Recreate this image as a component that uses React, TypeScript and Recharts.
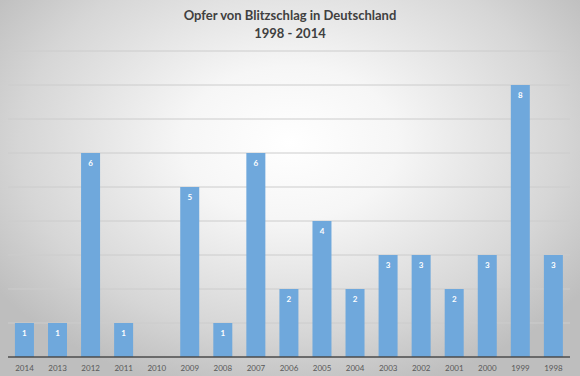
import { BarChart, Bar, XAxis, YAxis, CartesianGrid, LabelList } from 'recharts';

const years = ['2014', '2013', '2012', '2011', '2010', '2009', '2008', '2007', '2006', '2005', '2004', '2003', '2002', '2001', '2000', '1999', '1998'];
const victims = [1, 1, 6, 1, 0, 5, 1, 6, 2, 4, 2, 3, 3, 2, 3, 8, 3];
const yTicks = [0, 1, 2, 3, 4, 5, 6, 7, 8, 9];

const data = years.map((year, i) => ({ year, value: victims[i] }));

const FONT = 'Lato, "Open Sans", sans-serif';

export default function App() {
  return (
    <div
      style={{
        position: 'absolute',
        left: 0,
        top: 0,
        width: 580,
        height: 376,
        fontFamily: FONT,
        background: 'radial-gradient(ellipse 62% 68% at 50% 38%, #ffffff 0%, #f6f6f6 30%, #d6d6d6 75%, #bebebe 100%)',
      }}
    >
      <div
        style={{
          position: 'absolute',
          top: 6,
          left: 0,
          width: 580,
          textAlign: 'center',
          fontWeight: 700,
          fontSize: 13,
          lineHeight: '18px',
          color: '#404040',
        }}
      >
        <div>Opfer von Blitzschlag in Deutschland</div>
        <div>1998 - 2014</div>
      </div>
      <BarChart
        width={580}
        height={376}
        data={data}
        margin={{ top: 51, right: 10, left: 8, bottom: 0 }}
        barCategoryGap="21%"
      >
        <CartesianGrid vertical={false} stroke="#cccccc" />
        <YAxis hide domain={[0, 9]} ticks={yTicks} />
        <XAxis
          dataKey="year"
          height={19}
          tickLine={false}
          axisLine={{ stroke: '#4a4a4a', strokeWidth: 1.5 }}
          tick={{ fill: '#595959', fontSize: 8, fontFamily: FONT }}
          interval={0}
        />
        <Bar dataKey="value" fill="#6fa8dc" isAnimationActive={false}>
          <LabelList
            dataKey="value"
            position="insideTop"
            offset={7}
            fill="#ffffff"
            fontSize={8}
            fontWeight={700}
            fontFamily={FONT}
            formatter={(v: number) => (v ? v : '')}
          />
        </Bar>
      </BarChart>
    </div>
  );
}
